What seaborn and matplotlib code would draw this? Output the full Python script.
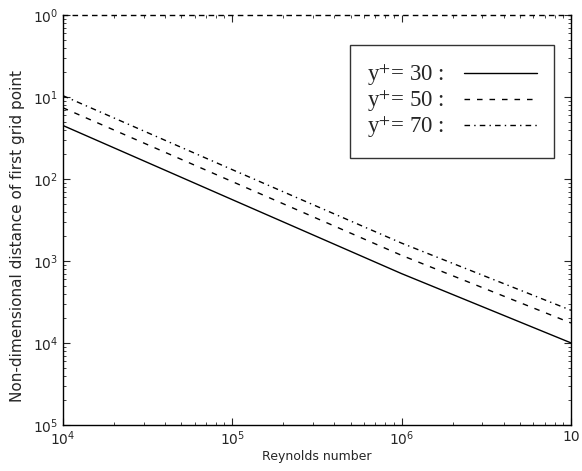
import numpy as np
import pandas as pd
import matplotlib
matplotlib.use("Agg")
import matplotlib.pyplot as plt
import seaborn as sns

# values
reynolds = [1e4, 1e5, 1e6, 1e7]
dist_y30 = [4.5e-2, 5.6e-3, 7.0e-4, 1.0e-4]
dist_y50 = [7.4e-2, 9.3e-3, 1.17e-3, 1.75e-4]
dist_y70 = [1.04e-1, 1.3e-2, 1.65e-3, 2.5e-4]
labels = ["y$^{+}$= 30 :", "y$^{+}$= 50 :", "y$^{+}$= 70 :"]

x_ticks = [1e4, 1e5, 1e6, 1e7]
x_ticklabels = ["$10^{4}$", "$10^{5}$", "$10^{6}$", "10"]
y_ticks = [1e-5, 1e-4, 1e-3, 1e-2, 1e-1, 1e0]
y_ticklabels = ["$10^{5}$", "$10^{4}$", "$10^{3}$", "$10^{2}$", "$10^{1}$", "$10^{0}$"]

df = pd.DataFrame({
    "Re": reynolds * 3,
    "dist": dist_y30 + dist_y50 + dist_y70,
    "case": [labels[0]] * 4 + [labels[1]] * 4 + [labels[2]] * 4,
})

sns.set_style("ticks")
plt.rcParams["font.family"] = ["DejaVu Sans"]
plt.rcParams["mathtext.fontset"] = "dejavusans"

fig = plt.figure(figsize=(5.82, 4.71), dpi=100)
ax = fig.add_axes([0.108, 0.098, 0.873, 0.87])

dashes = {labels[0]: "", labels[1]: (4, 5), labels[2]: (4, 3, 1, 3)}
sns.lineplot(data=df, x="Re", y="dist", style="case", dashes=dashes,
             color="black", linewidth=1.0, ax=ax, legend=False)

ax.set_xscale("log")
ax.set_yscale("log")
ax.set_xlim(1e4, 1e7)
ax.set_ylim(1e-5, 1e0)
ax.set_xticks(x_ticks)
ax.set_xticklabels(x_ticklabels, fontsize=10)
ax.set_yticks(y_ticks)
ax.set_yticklabels(y_ticklabels, fontsize=10)
ax.tick_params(which="both", direction="in", top=True, right=True)
ax.tick_params(which="major", length=5)
ax.tick_params(which="minor", length=2.5)
for s in ax.spines.values():
    s.set_linewidth(1.0)
    s.set_color("black")
ax.spines["top"].set_linestyle((0, (3, 4)))

ax.set_xlabel("Reynolds number", fontsize=9, labelpad=1)
ax.set_ylabel("Non-dimensional distance of first grid point", fontsize=11)
ax.yaxis.set_label_coords(-0.075, 0.46)

handles = [plt.Line2D([], [], color="black", lw=1.0, dashes=d) if d else
           plt.Line2D([], [], color="black", lw=1.0)
           for d in [dashes[l] for l in labels]]
with plt.rc_context({"mathtext.fontset": "stix"}):
    leg = ax.legend(handles, labels, loc="upper right", bbox_to_anchor=(0.967, 0.927),
                    borderaxespad=0.0, markerfirst=False, frameon=True, fancybox=False,
                    handlelength=3.2, handletextpad=0.85, labelspacing=0.0, borderpad=0.75,
                    prop={"family": "Liberation Serif", "size": 16.5})
leg.get_frame().set_edgecolor("black")
leg.get_frame().set_linewidth(1.0)

fig.savefig("out.png", dpi=100)
